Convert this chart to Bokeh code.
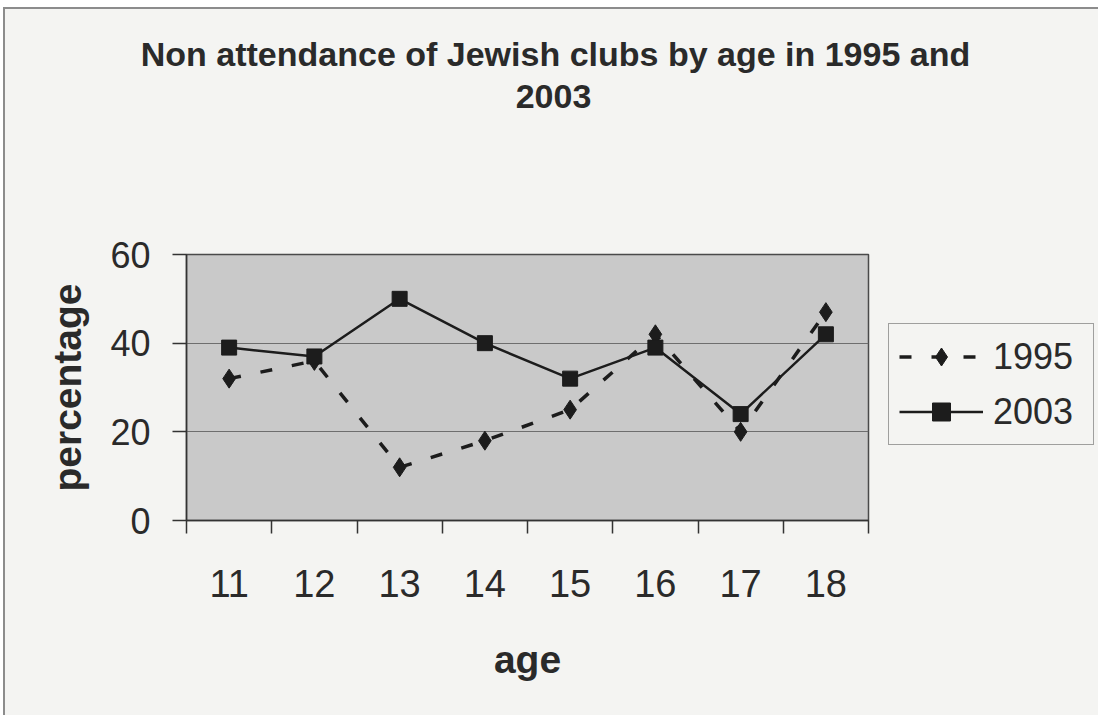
from bokeh.plotting import figure
from bokeh.layouts import column
from bokeh.models import FixedTicker, Legend, LegendItem, Range1d
from bokeh.core.properties import value
from bokeh.embed import file_html
from bokeh.resources import INLINE

# --- data -------------------------------------------------------------
ages = ["11", "12", "13", "14", "15", "16", "17", "18"]
pct_1995 = [32, 36, 12, 18, 25, 42, 20, 47]
pct_2003 = [39, 37, 50, 40, 32, 39, 24, 42]
y_ticks = [0, 20, 40, 60]

title_lines = ["Non attendance of Jewish clubs by age in 1995 and", "2003"]

# --- layout (page pixels) ---------------------------------------------
PAGE_W, PAGE_H = 1098, 715
OX, OY = 5, 9                       # chart-area border inset (margin + border)
W, H = PAGE_W - OX, PAGE_H - OY     # drawable size inside the border
HEAD_H = 200                        # height of the heading strip
CH_H = H - HEAD_H                   # height of the chart figure
FL, FR = 186 - OX, 868 - OX                      # frame edges in the chart figure
FT, FB = 254 - OY - HEAD_H, 520 - OY - HEAD_H
FONT = "Liberation Sans"
INK = "#1c1c1c"
TXT = "#2a2a2a"
PAPER = "#f4f4f2"

n = len(ages)
xs = list(range(n))

# --- heading strip ----------------------------------------------------
head = figure(width=W, height=HEAD_H, output_backend="svg", toolbar_location=None,
              x_range=Range1d(0, W), y_range=Range1d(HEAD_H, 0),
              x_axis_type=None, y_axis_type=None, min_border=0)
head.frame_align = False
head.outline_line_color = None
head.background_fill_color = PAPER
head.border_fill_color = PAPER
head.grid.visible = False
head.text(x=[555 - OX, 553 - OX], y=[53 - OY, 96 - OY], text=title_lines,
          text_align="center", text_baseline="middle", text_font=value(FONT),
          text_font_style="bold", text_font_size="34px", text_color=TXT)

# --- chart ------------------------------------------------------------
p = figure(frame_width=FR - FL, frame_height=FB - FT,
           output_backend="svg", toolbar_location=None,
           x_range=Range1d(-0.5, n - 0.5), y_range=Range1d(y_ticks[0], y_ticks[-1]),
           min_border_left=FL, min_border_right=W - FR,
           min_border_top=FT, min_border_bottom=CH_H - FB)
p.frame_align = False

p.background_fill_color = "#c9c9c9"
p.border_fill_color = PAPER
p.outline_line_color = "#4a4a4a"
p.outline_line_width = 1.5

# grid: horizontal lines only
p.xgrid.grid_line_color = None
p.ygrid.grid_line_color = "#6e6e6e"
p.ygrid.grid_line_width = 1.2
p.ygrid.ticker = FixedTicker(ticks=y_ticks)

# x axis: labels at category centres, tick marks on category boundaries
xax = p.xaxis[0]
xax.ticker = FixedTicker(ticks=xs, minor_ticks=[i - 0.5 for i in range(n + 1)])
xax.major_label_overrides = {i: a for i, a in enumerate(ages)}
xax.major_tick_line_color = None
xax.major_tick_out = 0
xax.major_tick_in = 0
xax.minor_tick_line_color = "#333333"
xax.minor_tick_line_width = 1.5
xax.minor_tick_out = 13
xax.minor_tick_in = 0
xax.axis_line_color = "#333333"
xax.axis_line_width = 1.5
xax.major_label_text_font = FONT
xax.major_label_text_font_size = "38px"
xax.major_label_text_color = TXT
xax.major_label_standoff = 36
xax.axis_label = "age"
xax.axis_label_text_font = FONT
xax.axis_label_text_font_style = "bold"
xax.axis_label_text_font_size = "39px"
xax.axis_label_text_color = TXT
xax.axis_label_standoff = 38

yax = p.yaxis[0]
yax.ticker = FixedTicker(ticks=y_ticks)
yax.minor_tick_line_color = None
yax.major_tick_line_color = "#333333"
yax.major_tick_line_width = 1.5
yax.major_tick_out = 14
yax.major_tick_in = 0
yax.axis_line_color = "#333333"
yax.axis_line_width = 1.5
yax.major_label_text_font = FONT
yax.major_label_text_font_size = "36px"
yax.major_label_text_color = TXT
yax.major_label_standoff = 22
yax.axis_label = "percentage"
yax.axis_label_text_font = FONT
yax.axis_label_text_font_style = "bold"
yax.axis_label_text_font_size = "39px"
yax.axis_label_text_color = TXT
yax.axis_label_standoff = 18

# series
l95 = p.line(xs, pct_1995, line_color=INK, line_width=3.5, line_dash="12 20")
m95 = p.scatter(xs, pct_1995, marker="diamond", size=19,
                fill_color=INK, line_color=INK)
l03 = p.line(xs, pct_2003, line_color=INK, line_width=2.5)
m03 = p.scatter(xs, pct_2003, marker="square", size=15,
                fill_color=INK, line_color=INK)

legend = Legend(items=[LegendItem(label="1995", renderers=[l95, m95]),
                       LegendItem(label="2003", renderers=[l03, m03])],
                location=(888 - 868, 520 - 445))
legend.label_text_font = FONT
legend.label_text_font_size = "36px"
legend.label_text_color = TXT
legend.glyph_width = 84
legend.glyph_height = 45
legend.label_height = 45
legend.label_width = 90
legend.label_standoff = 10
legend.spacing = 10
legend.padding = 10
legend.margin = 0
legend.border_line_color = "#4a4a4a"
legend.border_line_width = 1.5
legend.background_fill_color = PAPER
legend.background_fill_alpha = 1.0
p.add_layout(legend, "right")

page = column(head, p, spacing=0)
page.styles = {"margin-top": "7px", "margin-left": "3px",
               "border-top": "2px solid #8c8c8c", "border-left": "2px solid #8c8c8c",
               "background-color": PAPER}

open("out.html", "w").write(file_html(page, INLINE))
